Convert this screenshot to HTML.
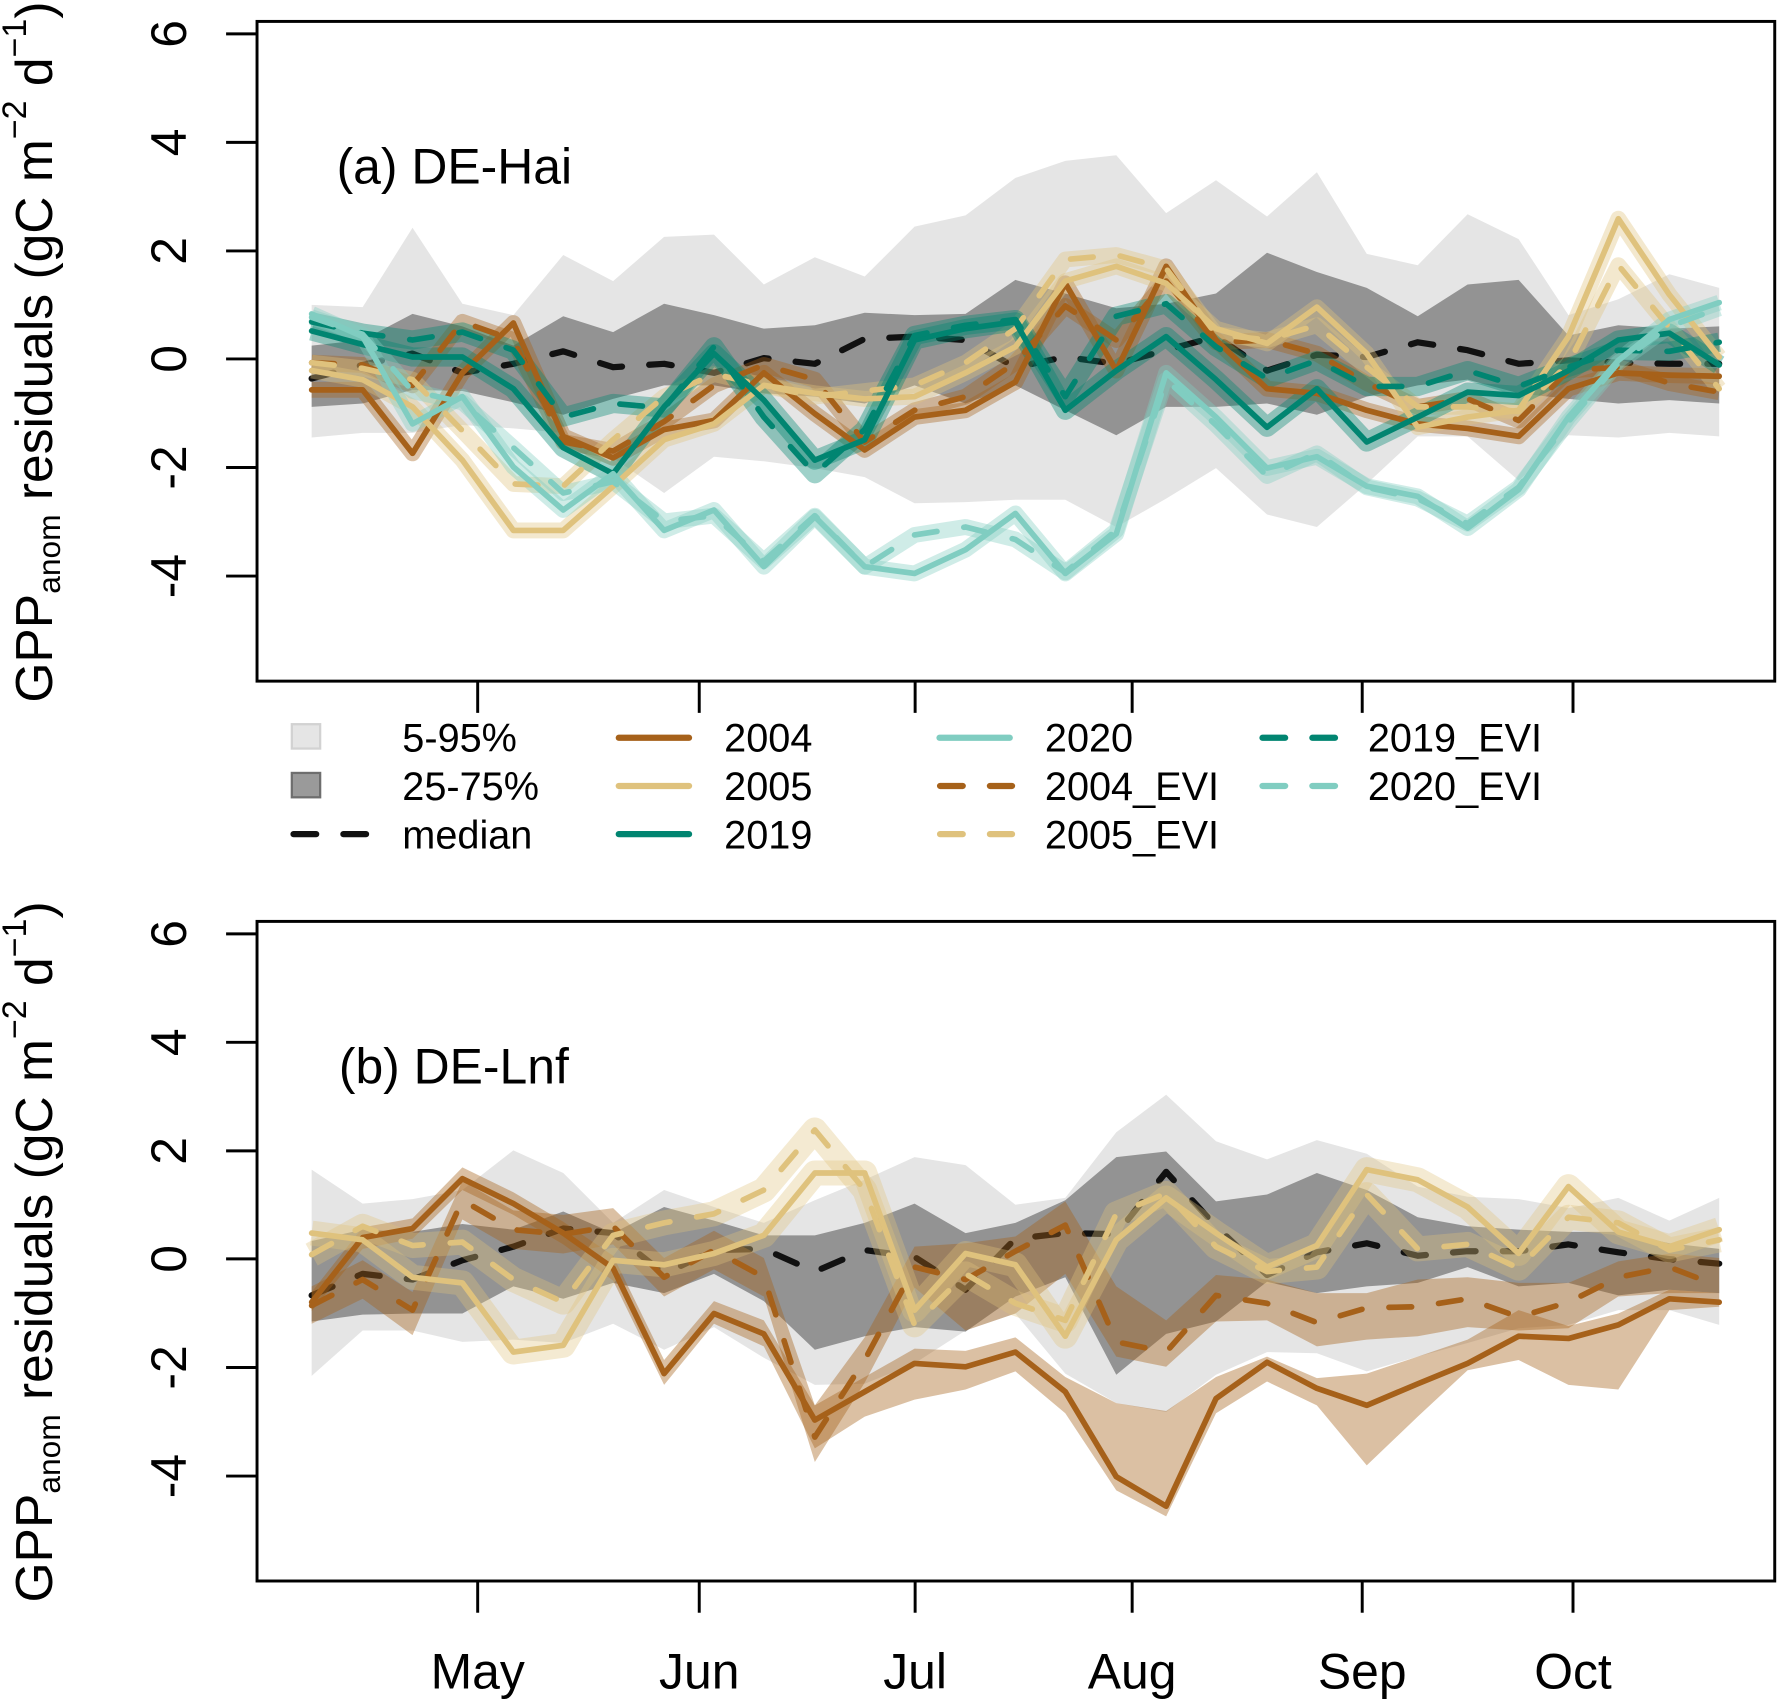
<!DOCTYPE html>
<html><head><meta charset="utf-8"><style>
html,body{margin:0;padding:0;background:#fff;}
svg{display:block;}
text{font-family:"Liberation Sans",Arial,sans-serif;fill:#000;}
</style></head><body>
<svg width="1777" height="1700" viewBox="0 0 1568 1500" preserveAspectRatio="none" xmlns="http://www.w3.org/2000/svg">
<rect x="0" y="0" width="1568" height="1500" fill="#fff"/>

<!-- ================= TOP PANEL ================= -->
<polygon fill="#e5e5e5" points="275,269 320,271 364,201 408,268 453,278 497,225 541,248 586,209 630,207 674,251 719,227 763,244 807,200 852,190 896,157 940,142 985,137 1029,188 1073,159 1118,191 1162,152 1206,224 1251,234 1295,189 1340,211 1384,278 1428,264 1473,242 1517,254 1517,385 1473,382 1428,386 1384,384 1340,424 1295,385 1251,385 1206,427 1162,465 1118,454 1073,413 1029,440 985,465 940,441 896,441 852,443 807,444 763,421 719,413 674,407 630,403 586,435 541,404 497,382 453,378 408,375 364,382 320,382 275,386"/>
<polygon fill="#939393" points="275,305 320,300 364,277 408,288 453,305 497,279 541,293 586,268 630,278 674,290 719,287 763,276 807,278 852,277 896,247 940,259 985,272 1029,268 1073,259 1118,223 1162,240 1206,254 1251,279 1295,251 1340,247 1384,296 1428,287 1473,290 1517,288 1517,356 1473,353 1428,356 1384,352 1340,347 1295,335 1251,340 1206,350 1162,366 1118,356 1073,359 1029,359 985,384 940,362 896,340 852,356 807,340 763,356 719,350 674,347 630,340 586,340 541,352 497,366 453,355 408,345 364,344 320,356 275,359"/>
<polyline fill="none" stroke="#111" stroke-width="5.5" stroke-linecap="round" stroke-linejoin="round" stroke-dasharray="20 24" points="275,334 320,322 364,312 408,329 453,321 497,310 541,324 586,321 630,329 674,316 719,321 763,299 807,297 852,300 896,324 940,315 985,321 1029,309 1073,297 1118,327 1162,313 1206,315 1251,302 1295,309 1340,321 1384,318 1428,320 1473,321 1517,321"/>

<g fill="none" stroke-linejoin="round" stroke-linecap="butt" stroke-opacity="0.38">
<polyline stroke="#A6611A" stroke-width="14" points="275,344 320,344 364,400 408,329 453,285 497,385 541,404 586,379 630,371 674,329 719,365 763,397 807,368 852,362 896,337 940,250 985,327 1029,235 1073,300 1118,343 1162,347 1206,362 1251,374 1295,378 1340,385 1384,343 1428,329 1473,331 1517,332"/>
<polyline stroke="#A6611A" stroke-width="14" points="275,320 320,322 364,340 408,284 453,300 497,390 541,398 586,372 630,340 674,322 719,335 763,390 807,362 852,350 896,320 940,270 985,300 1029,248 1073,302 1118,300 1162,312 1206,338 1251,359 1295,352 1340,371 1384,327 1428,324 1473,338 1517,346"/>
<polyline stroke="#DFC27D" stroke-width="14" points="275,327 320,335 364,359 408,406 453,468 497,468 541,429 586,388 630,374 674,340 719,347 763,352 807,350 852,329 896,306 940,248 985,235 1029,250 1073,290 1118,303 1162,271 1206,312 1251,377 1295,368 1340,362 1384,297 1428,193 1473,260 1517,315"/>
<polyline stroke="#DFC27D" stroke-width="14" points="275,320 320,325 364,335 408,380 453,427 497,429 541,388 586,350 630,330 674,340 719,350 763,345 807,340 852,320 896,290 940,229 985,225 1029,237 1073,295 1118,300 1162,287 1206,324 1251,359 1295,359 1340,363 1384,321 1428,234 1473,289 1517,343"/>
<polyline stroke="#018571" stroke-width="17" points="275,292 320,304 364,315 408,315 453,343 497,395 541,418 586,359 630,312 674,353 719,406 763,388 807,300 852,290 896,284 940,362 985,327 1029,297 1073,335 1118,377 1162,343 1206,390 1251,368 1295,346 1340,349 1384,327 1428,300 1473,294 1517,322"/>
<polyline stroke="#018571" stroke-width="17" points="275,284 320,294 364,300 408,293 453,309 497,368 541,356 586,360 630,306 674,368 719,418 763,379 807,296 852,287 896,282 940,350 985,279 1029,268 1073,306 1118,334 1162,318 1206,341 1251,341 1295,327 1340,341 1384,324 1428,309 1473,310 1517,302"/>
<polyline stroke="#80CDC1" stroke-width="14" points="275,277 320,297 364,374 408,350 453,412 497,450 541,418 586,468 630,450 674,500 719,456 763,500 807,506 852,485 896,453 940,506 985,471 1029,329 1073,368 1118,413 1162,403 1206,429 1251,438 1295,466 1340,432 1384,368 1428,318 1473,282 1517,267"/>
<polyline stroke="#80CDC1" stroke-width="14" points="275,280 320,295 364,345 408,355 453,395 497,435 541,425 586,460 630,455 674,495 719,455 763,500 807,472 852,465 896,476 940,505 985,468 1029,335 1073,375 1118,420 1162,400 1206,430 1251,440 1295,462 1340,430 1384,372 1428,320 1473,288 1517,272"/>
</g>

<g fill="none" stroke-width="5" stroke-linejoin="round" stroke-linecap="round">
<polyline stroke="#A6611A" points="275,344 320,344 364,400 408,329 453,285 497,385 541,404 586,379 630,371 674,329 719,365 763,397 807,368 852,362 896,337 940,250 985,327 1029,235 1073,300 1118,343 1162,347 1206,362 1251,374 1295,378 1340,385 1384,343 1428,329 1473,331 1517,332"/>
<polyline stroke="#A6611A" stroke-dasharray="20 24" points="275,320 320,322 364,340 408,284 453,300 497,390 541,398 586,372 630,340 674,322 719,335 763,390 807,362 852,350 896,320 940,270 985,300 1029,248 1073,302 1118,300 1162,312 1206,338 1251,359 1295,352 1340,371 1384,327 1428,324 1473,338 1517,346"/>
<polyline stroke="#DFC27D" points="275,327 320,335 364,359 408,406 453,468 497,468 541,429 586,388 630,374 674,340 719,347 763,352 807,350 852,329 896,306 940,248 985,235 1029,250 1073,290 1118,303 1162,271 1206,312 1251,377 1295,368 1340,362 1384,297 1428,193 1473,260 1517,315"/>
<polyline stroke="#DFC27D" stroke-dasharray="20 24" points="275,320 320,325 364,335 408,380 453,427 497,429 541,388 586,350 630,330 674,340 719,350 763,345 807,340 852,320 896,290 940,229 985,225 1029,237 1073,295 1118,300 1162,287 1206,324 1251,359 1295,359 1340,363 1384,321 1428,234 1473,289 1517,343"/>
<polyline stroke="#018571" points="275,292 320,304 364,315 408,315 453,343 497,395 541,418 586,359 630,312 674,353 719,406 763,388 807,300 852,290 896,284 940,362 985,327 1029,297 1073,335 1118,377 1162,343 1206,390 1251,368 1295,346 1340,349 1384,327 1428,300 1473,294 1517,322"/>
<polyline stroke="#018571" stroke-dasharray="20 24" points="275,284 320,294 364,300 408,293 453,309 497,368 541,356 586,360 630,306 674,368 719,418 763,379 807,296 852,287 896,282 940,350 985,279 1029,268 1073,306 1118,334 1162,318 1206,341 1251,341 1295,327 1340,341 1384,324 1428,309 1473,310 1517,302"/>
<polyline stroke="#80CDC1" points="275,277 320,297 364,374 408,350 453,412 497,450 541,418 586,468 630,450 674,500 719,456 763,500 807,506 852,485 896,453 940,506 985,471 1029,329 1073,368 1118,413 1162,403 1206,429 1251,438 1295,466 1340,432 1384,368 1428,318 1473,282 1517,267"/>
<polyline stroke="#80CDC1" stroke-dasharray="20 24" points="275,280 320,295 364,345 408,355 453,395 497,435 541,425 586,460 630,455 674,495 719,455 763,500 807,472 852,465 896,476 940,505 985,468 1029,335 1073,375 1118,420 1162,400 1206,430 1251,440 1295,462 1340,430 1384,372 1428,320 1473,288 1517,272"/>
</g>

<!-- top axes -->
<g stroke="#000" stroke-width="2.6" fill="none">
<rect x="226.8" y="18.9" width="1339.2" height="582.1"/>
<line x1="199.5" y1="29.9" x2="226.8" y2="29.9"/>
<line x1="199.5" y1="125.6" x2="226.8" y2="125.6"/>
<line x1="199.5" y1="221.4" x2="226.8" y2="221.4"/>
<line x1="199.5" y1="316.7" x2="226.8" y2="316.7"/>
<line x1="199.5" y1="412.5" x2="226.8" y2="412.5"/>
<line x1="199.5" y1="508.3" x2="226.8" y2="508.3"/>
<line x1="421.5" y1="601" x2="421.5" y2="629"/>
<line x1="617" y1="601" x2="617" y2="629"/>
<line x1="807.5" y1="601" x2="807.5" y2="629"/>
<line x1="999" y1="601" x2="999" y2="629"/>
<line x1="1202" y1="601" x2="1202" y2="629"/>
<line x1="1388" y1="601" x2="1388" y2="629"/>
</g>
<g font-size="44" text-anchor="middle">
<text transform="translate(164,29.9) rotate(-90)">6</text>
<text transform="translate(164,125.6) rotate(-90)">4</text>
<text transform="translate(164,221.4) rotate(-90)">2</text>
<text transform="translate(164,316.7) rotate(-90)">0</text>
<text transform="translate(164,412.5) rotate(-90)">-2</text>
<text transform="translate(164,508.3) rotate(-90)">-4</text>
</g>
<text x="297" y="162" font-size="44">(a) DE-Hai</text>
<text transform="translate(46,620) rotate(-90)" font-size="45.5">GPP<tspan font-size="28" dy="7">anom</tspan><tspan dy="-7"> residuals (gC m</tspan><tspan font-size="30" dy="-23">−2</tspan><tspan dy="23"> d</tspan><tspan font-size="30" dy="-23">−1</tspan><tspan dy="23">)</tspan></text>

<!-- legend -->
<rect x="257.5" y="639" width="25" height="21.5" fill="#e5e5e5" stroke="#d2d2d2" stroke-width="2"/>
<rect x="257.5" y="682" width="25" height="21.5" fill="#9a9a9a" stroke="#6e6e6e" stroke-width="2"/>
<line x1="259" y1="736" x2="326" y2="736" stroke="#111" stroke-width="5.5" stroke-linecap="round" stroke-dasharray="20 24"/>
<g stroke-width="5.5" stroke-linecap="round" fill="none">
<line x1="546" y1="651" x2="608" y2="651" stroke="#A6611A"/>
<line x1="546" y1="693.5" x2="608" y2="693.5" stroke="#DFC27D"/>
<line x1="546" y1="736" x2="608" y2="736" stroke="#018571"/>
<line x1="829" y1="651" x2="891" y2="651" stroke="#80CDC1"/>
<line x1="829.5" y1="693.5" x2="893" y2="693.5" stroke="#A6611A" stroke-dasharray="20 24"/>
<line x1="829.5" y1="736" x2="893" y2="736" stroke="#DFC27D" stroke-dasharray="20 24"/>
<line x1="1114" y1="651" x2="1178" y2="651" stroke="#018571" stroke-dasharray="20 24"/>
<line x1="1114" y1="693.5" x2="1178" y2="693.5" stroke="#80CDC1" stroke-dasharray="20 24"/>
</g>
<g font-size="35">
<text x="355" y="663">5-95%</text>
<text x="355" y="706">25-75%</text>
<text x="355" y="748.5">median</text>
<text x="639" y="663">2004</text>
<text x="639" y="706">2005</text>
<text x="639" y="748.5">2019</text>
<text x="922" y="663">2020</text>
<text x="922" y="706">2004_EVI</text>
<text x="922" y="748.5">2005_EVI</text>
<text x="1207" y="663">2019_EVI</text>
<text x="1207" y="706">2020_EVI</text>
</g>

<!-- ================= BOTTOM PANEL ================= -->
<polygon fill="#e5e5e5" points="275,1032 320,1062 364,1058 408,1050 453,1015 497,1035 541,1079 586,1050 630,1065 674,1079 719,1059 763,1041 807,1021 852,1028 896,1063 940,1057 985,999 1029,966 1073,1007 1118,1023 1162,1006 1206,1018 1251,1047 1295,1056 1340,1058 1384,1066 1428,1057 1473,1077 1517,1057 1517,1169 1473,1156 1428,1156 1384,1169 1340,1172 1295,1185 1251,1197 1206,1210 1162,1194 1118,1193 1073,1213 1029,1246 985,1238 940,1212 896,1159 852,1174 807,1203 763,1221 719,1222 674,1198 630,1171 586,1191 541,1168 497,1185 453,1182 408,1184 364,1174 320,1174 275,1214"/>
<polygon fill="#939393" points="275,1095 320,1085 364,1087 408,1080 453,1085 497,1069 541,1088 586,1065 630,1077 674,1090 719,1090 763,1079 807,1062 852,1088 896,1079 940,1059 985,1021 1029,1016 1073,1060 1118,1054 1162,1035 1206,1050 1251,1074 1295,1082 1340,1085 1384,1087 1428,1087 1473,1097 1517,1102 1517,1141 1473,1138 1428,1143 1384,1132 1340,1135 1295,1118 1251,1132 1206,1135 1162,1141 1118,1131 1073,1166 1029,1177 985,1213 940,1127 896,1144 852,1175 807,1171 763,1179 719,1191 674,1148 630,1124 586,1141 541,1132 497,1146 453,1135 408,1159 364,1159 320,1160 275,1166"/>
<polyline fill="none" stroke="#111" stroke-width="5.5" stroke-linecap="round" stroke-linejoin="round" stroke-dasharray="20 24" points="275,1143 320,1124 364,1129 408,1112 453,1100 497,1084 541,1088 586,1124 630,1103 674,1102 719,1122 763,1103 807,1109 852,1138 896,1093 940,1088 985,1089 1029,1034 1073,1082 1118,1125 1162,1105 1206,1097 1251,1108 1295,1104 1340,1104 1384,1098 1428,1105 1473,1111 1517,1115"/>

<polygon fill="#A6611A" fill-opacity="0.4" points="275,1140 320,1083 364,1075 408,1030 453,1052 497,1078 541,1108 586,1200 630,1148 674,1165 719,1240 763,1215 807,1190 852,1192 896,1180 940,1215 985,1238 1029,1245 1073,1215 1118,1197 1162,1216 1206,1212 1251,1197 1295,1182 1340,1156 1384,1170 1428,1159 1473,1138 1517,1141 1517,1153 1473,1156 1428,1226 1384,1222 1340,1200 1295,1209 1251,1250 1206,1293 1162,1240 1118,1219 1073,1247 1029,1338 985,1315 940,1247 896,1210 852,1226 807,1235 763,1250 719,1278 674,1188 630,1168 586,1222 541,1130 497,1098 453,1072 408,1050 364,1093 320,1102 275,1157"/>
<polygon fill="#A6611A" fill-opacity="0.4" points="275,1135 320,1112 364,1140 408,1042 453,1068 497,1072 541,1066 586,1110 630,1086 674,1110 719,1240 763,1180 807,1100 852,1097 896,1091 940,1060 985,1135 1029,1165 1073,1125 1118,1129 1162,1141 1206,1141 1251,1129 1295,1127 1340,1132 1384,1132 1428,1113 1473,1106 1517,1110 1517,1141 1473,1141 1428,1144 1384,1172 1340,1174 1295,1171 1251,1179 1206,1182 1162,1188 1118,1165 1073,1166 1029,1206 985,1197 940,1124 896,1159 852,1174 807,1136 763,1220 719,1290 674,1144 630,1120 586,1144 541,1098 497,1106 453,1102 408,1076 364,1178 320,1146 275,1168"/>
<g fill="none" stroke-linejoin="round" stroke-linecap="butt" stroke-opacity="0.35">
<polyline stroke="#DFC27D" stroke-width="22" points="275,1088 320,1094 364,1127 408,1132 453,1193 497,1187 541,1112 586,1116 630,1106 674,1090 719,1035 763,1035 807,1156 852,1106 896,1116 940,1179 985,1094 1029,1057 1073,1088 1118,1118 1162,1099 1206,1032 1251,1041 1295,1065 1340,1106 1384,1047 1428,1087 1473,1100 1517,1085"/>
<polyline stroke="#DFC27D" stroke-width="22" points="275,1107 320,1082 364,1099 408,1096 453,1129 497,1149 541,1090 586,1079 630,1071 674,1050 719,997 763,1050 807,1169 852,1124 896,1150 940,1165 985,1071 1029,1053 1073,1100 1118,1122 1162,1118 1206,1054 1251,1102 1295,1098 1340,1119 1384,1074 1428,1079 1473,1103 1517,1094"/>
</g>
<g fill="none" stroke-width="5" stroke-linejoin="round" stroke-linecap="round">
<polyline stroke="#A6611A" points="275,1149 320,1092 364,1084 408,1040 453,1062 497,1088 541,1119 586,1212 630,1159 674,1177 719,1253 763,1228 807,1203 852,1206 896,1193 940,1228 985,1303 1029,1329 1073,1234 1118,1202 1162,1225 1206,1240 1251,1221 1295,1203 1340,1179 1384,1181 1428,1169 1473,1146 1517,1149"/>
<polyline stroke="#A6611A" stroke-dasharray="20 24" points="275,1152 320,1129 364,1156 408,1059 453,1085 497,1089 541,1082 586,1127 630,1103 674,1127 719,1268 763,1200 807,1118 852,1129 896,1104 940,1081 985,1184 1029,1193 1073,1143 1118,1150 1162,1167 1206,1154 1251,1153 1295,1146 1340,1162 1384,1149 1428,1127 1473,1118 1517,1135"/>
<polyline stroke="#DFC27D" points="275,1088 320,1094 364,1127 408,1132 453,1193 497,1187 541,1112 586,1116 630,1106 674,1090 719,1035 763,1035 807,1156 852,1106 896,1116 940,1179 985,1094 1029,1057 1073,1088 1118,1118 1162,1099 1206,1032 1251,1041 1295,1065 1340,1106 1384,1047 1428,1087 1473,1100 1517,1085"/>
<polyline stroke="#DFC27D" stroke-dasharray="20 24" points="275,1107 320,1082 364,1099 408,1096 453,1129 497,1149 541,1090 586,1079 630,1071 674,1050 719,997 763,1050 807,1169 852,1124 896,1150 940,1165 985,1071 1029,1053 1073,1100 1118,1122 1162,1118 1206,1054 1251,1102 1295,1098 1340,1119 1384,1074 1428,1079 1473,1103 1517,1094"/>
</g>

<!-- bottom axes -->
<g stroke="#000" stroke-width="2.6" fill="none">
<rect x="226.8" y="813" width="1339.2" height="582"/>
<line x1="199.5" y1="824" x2="226.8" y2="824"/>
<line x1="199.5" y1="919.7" x2="226.8" y2="919.7"/>
<line x1="199.5" y1="1015.5" x2="226.8" y2="1015.5"/>
<line x1="199.5" y1="1110.8" x2="226.8" y2="1110.8"/>
<line x1="199.5" y1="1206.6" x2="226.8" y2="1206.6"/>
<line x1="199.5" y1="1302.4" x2="226.8" y2="1302.4"/>
<line x1="421.5" y1="1395" x2="421.5" y2="1423"/>
<line x1="617" y1="1395" x2="617" y2="1423"/>
<line x1="807.5" y1="1395" x2="807.5" y2="1423"/>
<line x1="999" y1="1395" x2="999" y2="1423"/>
<line x1="1202" y1="1395" x2="1202" y2="1423"/>
<line x1="1388" y1="1395" x2="1388" y2="1423"/>
</g>
<g font-size="44" text-anchor="middle">
<text transform="translate(164,824) rotate(-90)">6</text>
<text transform="translate(164,919.7) rotate(-90)">4</text>
<text transform="translate(164,1015.5) rotate(-90)">2</text>
<text transform="translate(164,1110.8) rotate(-90)">0</text>
<text transform="translate(164,1206.6) rotate(-90)">-2</text>
<text transform="translate(164,1302.4) rotate(-90)">-4</text>
<text x="421.5" y="1490">May</text>
<text x="617" y="1490">Jun</text>
<text x="807.5" y="1490">Jul</text>
<text x="999" y="1490">Aug</text>
<text x="1202" y="1490">Sep</text>
<text x="1388" y="1490">Oct</text>
</g>
<text x="299" y="956" font-size="44">(b) DE-Lnf</text>
<text transform="translate(46,1414) rotate(-90)" font-size="45.5">GPP<tspan font-size="28" dy="7">anom</tspan><tspan dy="-7"> residuals (gC m</tspan><tspan font-size="30" dy="-23">−2</tspan><tspan dy="23"> d</tspan><tspan font-size="30" dy="-23">−1</tspan><tspan dy="23">)</tspan></text>
</svg>
</body></html>
